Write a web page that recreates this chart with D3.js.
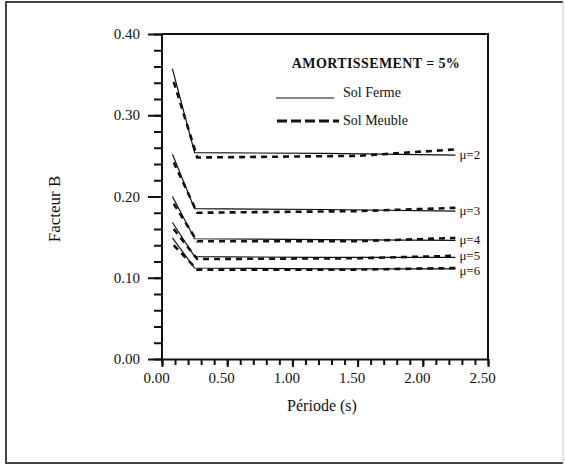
<!DOCTYPE html>
<html>
<head>
<meta charset="utf-8">
<script src="https://cdn.jsdelivr.net/npm/d3@7"></script>
<style>
  body { margin: 0; background: #fff; }
  text { font-family: "Liberation Serif", "DejaVu Serif", serif; fill: #111; }
</style>
</head>
<body>
<div id="chart"></div>
<script>
// Facteur B vs période, amortissement 5 %
const mus = [2, 3, 4, 5, 6];
const fermeT = [0.08, 0.25, 1.25, 2.25];
const meubleT = [0.09, 0.27, 1.5, 2.25];
const fermeB = [
  [0.357, 0.254, 0.253, 0.251],
  [0.252, 0.185, 0.184, 0.182],
  [0.2, 0.148, 0.147, 0.146],
  [0.168, 0.126, 0.125, 0.125],
  [0.149, 0.112, 0.111, 0.111],
];
const meubleB = [
  [0.341, 0.248, 0.25, 0.258],
  [0.242, 0.18, 0.182, 0.186],
  [0.191, 0.145, 0.145, 0.149],
  [0.16, 0.123, 0.124, 0.127],
  [0.14, 0.11, 0.11, 0.112],
];
const xTicks = [0, 0.5, 1, 1.5, 2, 2.5];
const yTicks = [0, 0.1, 0.2, 0.3, 0.4];
const titre = "AMORTISSEMENT = 5%";
const legendLabels = ["Sol Ferme", "Sol Meuble"];

const W = 565, H = 467;
const svg = d3.select("#chart").append("svg").attr("width", W).attr("height", H);

// cadre extérieur
svg.append("path")
  .attr("d", `M563,2 H6 V463 H563`)
  .attr("fill", "none").attr("stroke", "#444").attr("stroke-width", 2);
svg.append("line")
  .attr("x1", 563).attr("x2", 563).attr("y1", 2).attr("y2", 463)
  .attr("stroke", "#ccc").attr("stroke-width", 1);

const x = d3.scaleLinear().domain([0, 2.5]).range([162, 488]);
const y = d3.scaleLinear().domain([0, 0.4]).range([359, 34]);

// cadre du graphique
svg.append("path")
  .attr("d", `M${x(0)},${y(0.4)} H${x(2.5)} V${y(0)}`)
  .attr("fill", "none").attr("stroke", "#111").attr("stroke-width", 2);

// axe Y
const yMinor = d3.range(0, 0.401, 0.02);
svg.append("g")
  .attr("transform", `translate(${x(0)},0)`)
  .call(d3.axisLeft(y).tickValues(yMinor).tickSize(8).tickSizeOuter(0).tickFormat(""))
  .call((g) => g.selectAll("line").attr("stroke", "#111").attr("stroke-width", 2))
  .call((g) => g.select(".domain").attr("stroke", "#111").attr("stroke-width", 2)
    .attr("d", `M0,${y(0.4)}V${y(0) + 4}`));
svg.append("g")
  .attr("transform", `translate(${x(0)},0)`)
  .call(d3.axisLeft(y).tickValues(yTicks).tickSize(14).tickPadding(8).tickFormat(d3.format(".2f")))
  .call((g) => g.select(".domain").remove())
  .call((g) => g.selectAll("line").attr("stroke", "#111").attr("stroke-width", 2))
  .call((g) => g.selectAll("text").attr("font-size", 15).attr("dy", "0.3em")
    .style("font-family", "Liberation Serif").attr("fill", "#111"));

// axe X
const xMinor = d3.range(0, 2.501, 0.1);
svg.append("g")
  .attr("transform", `translate(0,${y(0)})`)
  .call(d3.axisBottom(x).tickValues(xMinor).tickSize(6).tickSizeOuter(0).tickFormat(""))
  .call((g) => g.selectAll("line").attr("stroke", "#111").attr("stroke-width", 2))
  .call((g) => g.select(".domain").attr("stroke", "#111").attr("stroke-width", 2));
svg.append("g")
  .attr("transform", `translate(0,${y(0)})`)
  .call(d3.axisBottom(x).tickValues(xTicks).tickSize(8).tickPadding(5).tickFormat(d3.format(".2f")))
  .call((g) => g.select(".domain").remove())
  .call((g) => g.selectAll("line").attr("stroke", "#111").attr("stroke-width", 2))
  .call((g) => g.selectAll("text").attr("font-size", 15).attr("dx", -6)
    .style("font-family", "Liberation Serif").attr("fill", "#111"));

// titres des axes
svg.append("text")
  .attr("transform", `translate(60,209) rotate(-90)`)
  .attr("text-anchor", "middle")
  .attr("font-size", 17)
  .text("Facteur B");
svg.append("text")
  .attr("x", 322).attr("y", 411)
  .attr("text-anchor", "middle")
  .attr("font-size", 16)
  .text("Période (s)");

// courbes
const line = d3.line().x((d) => x(d[0])).y((d) => y(d[1]));

fermeB.forEach((vals) => {
  svg.append("path")
    .datum(fermeT.map((t, i) => [t, vals[i]]))
    .attr("fill", "none").attr("stroke", "#111").attr("stroke-width", 1.2)
    .attr("d", line);
});

meubleB.forEach((vals) => {
  svg.append("path")
    .datum(meubleT.map((t, i) => [t, vals[i]]))
    .attr("fill", "none").attr("stroke", "#111").attr("stroke-width", 2.6)
    .attr("stroke-dasharray", "6,5")
    .attr("d", line);
});

// étiquettes mu : placées au bout des courbes, écartées si elles se touchent
const gap = 15;
const muY = mus.map((d, i) => y(fermeB[i][3]) + 4);
for (let i = 1; i < muY.length; i++) {
  if (muY[i] - muY[i - 1] < gap) {
    const mid = (muY[i] + muY[i - 1]) / 2;
    muY[i - 1] = mid - gap / 2;
    muY[i] = mid + gap / 2;
  }
}
svg.selectAll(".mu")
  .data(mus)
  .enter()
  .append("text")
  .attr("class", "mu")
  .attr("x", x(2.25) + 4)
  .attr("y", (d, i) => muY[i])
  .attr("font-size", 13)
  .text((d) => "\u03BC=" + d);

// légende
svg.append("text")
  .attr("x", 376).attr("y", 68)
  .attr("text-anchor", "middle")
  .attr("font-size", 14).attr("font-weight", "bold")
  .attr("letter-spacing", 0.4)
  .text(titre);

svg.append("line")
  .attr("x1", 276).attr("x2", 334).attr("y1", 98).attr("y2", 98)
  .attr("stroke", "#111").attr("stroke-width", 1.2);
svg.append("line")
  .attr("x1", 277).attr("x2", 339).attr("y1", 121).attr("y2", 121)
  .attr("stroke", "#111").attr("stroke-width", 3)
  .attr("stroke-dasharray", "10,4");

svg.selectAll(".leg")
  .data(legendLabels)
  .enter()
  .append("text")
  .attr("class", "leg")
  .attr("x", 343)
  .attr("y", (d, i) => (i === 0 ? 97 : 125))
  .attr("font-size", 14)
  .text((d) => d);
</script>
</body>
</html>
